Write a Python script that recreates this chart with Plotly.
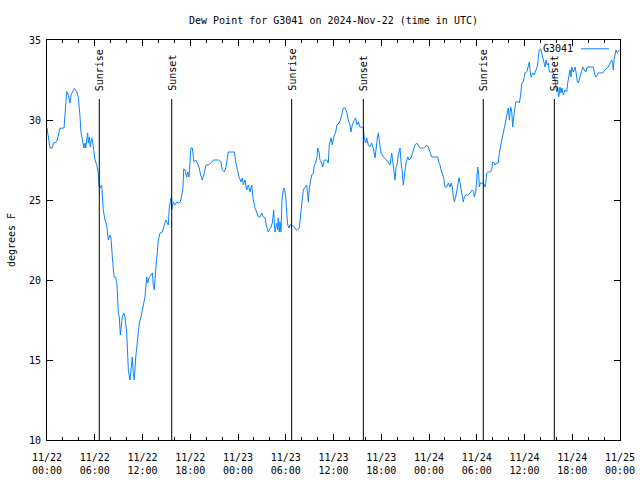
import pandas as pd
import plotly.graph_objects as go

start = pd.Timestamp("2024-11-22 00:00")

# hours since 2024-11-22 00:00 UTC
hours = [0, 0.38, 0.63, 0.82, 1.22, 1.51, 1.63, 2.14, 2.26, 2.48, 2.68, 2.89, 3.02, 3.18, 3.43, 3.73, 3.93,
         4.15, 4.27, 4.44, 4.65, 4.78, 4.86, 4.99, 5.11, 5.19, 5.32, 5.44, 5.62, 5.74, 5.91, 6.03, 6.25, 6.45,
         6.53, 6.66, 6.87, 6.95, 7.07, 7.29, 7.50, 7.63, 7.70, 7.92, 8.04, 8.21, 8.42, 8.63, 8.80, 8.96, 9.09,
         9.21, 9.30, 9.46, 9.64, 9.80, 10.02, 10.14, 10.22, 10.43, 10.56, 10.72, 10.84, 10.97, 11.15, 11.27,
         11.47, 11.60, 11.81, 12.10, 12.31, 12.53, 12.65, 12.82, 13.07, 13.23, 13.36, 13.48, 13.66, 13.82,
         13.99, 14.20, 14.49, 14.74, 14.92, 15.04, 15.24, 15.37, 15.58, 15.67, 15.87, 16.08, 16.30, 16.50,
         16.75, 17.00, 17.10, 17.18, 17.34, 17.55, 17.68, 17.84, 17.97, 18.09, 18.26, 18.47, 18.69, 18.85,
         19.10, 19.31, 19.51, 19.77, 19.98, 20.27, 20.61, 20.90, 21.53, 21.86, 22.03, 22.28, 22.49, 22.78,
         23.21, 23.54, 23.71, 23.96, 24.13, 24.38, 24.54, 24.67, 24.88, 25.09, 25.30, 25.51, 25.72, 25.92,
         26.14, 26.35, 26.55, 26.77, 26.98, 27.18, 27.39, 27.60, 27.81, 27.93, 28.15, 28.31, 28.49, 28.56,
         28.65, 28.86, 28.99, 29.06, 29.19, 29.28, 29.40, 29.53, 29.69, 29.82, 30.00, 30.12, 30.25, 30.41,
         30.53, 30.82, 31.08, 31.29, 31.50, 31.70, 31.83, 32.00, 32.21, 32.42, 32.63, 32.76, 32.84, 32.96,
         33.14, 33.26, 33.46, 33.59, 33.76, 33.93, 34.02, 34.18, 34.30, 34.52, 34.64, 34.85, 35.15, 35.35,
         35.47, 35.69, 35.85, 35.98, 36.10, 36.28, 36.44, 36.69, 36.86, 37.03, 37.23, 37.45, 37.66, 37.86,
         38.07, 38.20, 38.36, 38.61, 38.79, 38.95, 39.12, 39.33, 39.54, 39.75, 39.87, 40.05, 40.17, 40.37,
         40.59, 40.80, 41.00, 41.22, 41.34, 41.51, 41.63, 41.84, 41.97, 42.13, 42.38, 42.69, 42.89, 43.10,
         43.32, 43.44, 43.57, 43.73, 43.86, 43.98, 44.14, 44.36, 44.48, 44.65, 44.77, 44.90, 44.99, 45.11,
         45.33, 45.49, 45.74, 46.03, 46.24, 46.46, 46.66, 46.87, 47.08, 47.29, 47.50, 47.71, 47.91, 48.13,
         48.34, 48.76, 49.10, 49.26, 49.38, 49.51, 49.67, 49.85, 50.01, 50.23, 50.43, 50.64, 50.77, 50.93,
         51.06, 51.18, 51.36, 51.52, 51.68, 51.77, 51.90, 52.02, 52.19, 52.31, 52.44, 52.61, 52.94, 53.28,
         53.44, 53.62, 53.69, 53.87, 53.99, 54.12, 54.25, 54.32, 54.45, 54.62, 54.82, 54.95, 55.04, 55.13,
         55.25, 55.38, 55.67, 55.88, 56.00, 56.21, 56.29, 56.51, 56.71, 56.83, 56.96, 57.14, 57.34, 57.47,
         57.56, 57.77, 57.97, 58.10, 58.27, 58.40, 58.52, 58.60, 58.72, 58.90, 59.22, 59.35, 59.52, 59.65,
         59.85, 60.06, 60.28, 60.48, 60.61, 60.69, 60.82, 61.03, 61.23, 61.45, 61.66, 61.74, 61.86, 62.04,
         62.16, 62.29, 62.45, 62.58, 62.70, 62.86, 62.99, 63.12, 63.29, 63.54, 63.62, 63.74, 63.87, 63.96,
         64.05, 64.17, 64.30, 64.46, 64.59, 64.71, 64.88, 65.09, 65.30, 65.43, 65.59, 65.72, 65.84, 65.93,
         66.13, 66.35, 66.47, 66.64, 66.77, 66.98, 67.19, 67.32, 67.49, 67.69, 67.89, 68.14, 68.45, 68.65,
         68.86, 68.99, 69.28, 69.58, 69.83, 70.12, 70.33, 70.53, 70.74, 70.96, 71.08, 71.16, 71.25, 71.41,
         71.50, 71.66, 71.79, 71.91]

dew_point = [29.5, 28.25, 28.25, 28.56, 28.64, 29.38, 29.48, 29.5, 30.13, 31.77, 31.56, 31.06, 31.56, 31.77,
             31.98, 31.77, 31.46, 30.21, 29.27, 28.75, 28.25, 28.56, 28.25, 28.75, 29.19, 28.56, 28.94, 28.31,
             28.88, 28.63, 28.0, 27.5, 27.19, 26.69, 25.81, 25.75, 25.94, 25.44, 24.38, 23.75, 23.44, 22.81,
             22.5, 22.81, 22.63, 21.44, 20.19, 20.19, 19.69, 17.94, 17.69, 16.56, 17.0, 17.69, 17.94, 17.69,
             16.69, 15.19, 14.38, 13.75, 14.56, 15.19, 14.19, 13.75, 15.19, 15.81, 16.69, 17.31, 17.69, 18.31,
             18.94, 20.19, 19.81, 20.13, 20.31, 20.44, 19.69, 19.38, 20.63, 21.38, 22.5, 22.94, 23.0, 23.44,
             23.75, 23.63, 23.44, 24.56, 25.13, 24.38, 24.88, 24.69, 24.88, 24.81, 24.88, 25.44, 25.88, 26.94,
             26.88, 26.44, 26.75, 26.44, 27.94, 28.25, 28.25, 27.38, 27.5, 27.31, 27.06, 26.56, 26.25, 26.69,
             27.19, 27.19, 27.31, 27.5, 27.5, 27.38, 26.88, 26.75, 27.06, 28.0, 28.0, 28.0, 27.38, 26.75, 26.44,
             26.13, 26.38, 25.94, 26.25, 25.63, 25.94, 25.5, 25.94, 25.0, 24.5, 24.25, 23.94, 23.94, 24.19,
             23.94, 23.88, 23.31, 23.0, 23.13, 23.31, 23.56, 24.38, 23.56, 23.0, 23.56, 23.13, 23.88, 23.0,
             23.63, 23.0, 25.0, 25.63, 25.75, 25.19, 24.19, 23.44, 23.25, 23.44, 23.44, 23.31, 23.13, 23.13,
             23.25, 23.75, 24.69, 25.63, 25.81, 25.94, 25.31, 24.88, 25.75, 26.25, 26.56, 26.69, 27.19, 27.31,
             27.69, 28.25, 28.0, 27.5, 27.31, 27.06, 27.5, 27.5, 27.31, 28.44, 28.88, 28.44, 28.88, 29.06,
             29.25, 29.69, 29.81, 30.0, 30.31, 30.75, 30.75, 30.5, 30.0, 29.69, 29.25, 29.69, 30.0, 30.13,
             29.69, 29.88, 29.56, 29.56, 29.5, 28.88, 28.56, 28.88, 28.44, 28.31, 28.56, 28.25, 27.63, 28.25,
             28.88, 29.19, 28.44, 27.94, 27.81, 27.63, 27.5, 27.31, 27.19, 27.94, 27.38, 26.75, 26.25, 27.06,
             27.19, 27.81, 28.25, 27.38, 26.75, 25.94, 26.38, 26.75, 27.31, 27.69, 27.5, 27.63, 28.13, 28.44,
             28.56, 28.44, 28.25, 28.25, 28.25, 28.31, 28.44, 28.31, 27.94, 27.69, 27.69, 27.69, 27.31, 27.19,
             26.88, 26.69, 26.38, 25.81, 25.81, 26.06, 25.81, 26.06, 25.81, 25.19, 24.88, 25.19, 25.75, 26.25,
             26.38, 26.06, 25.63, 25.19, 24.88, 25.19, 25.31, 25.31, 25.5, 25.63, 25.5, 25.19, 25.5, 26.56,
             27.06, 26.56, 25.81, 26.06, 26.06, 26.06, 25.94, 25.81, 26.06, 26.69, 26.75, 26.75, 26.88, 27.38,
             27.31, 27.19, 27.31, 27.31, 27.94, 28.25, 28.63, 29.19, 29.38, 29.81, 30.13, 30.75, 30.0, 30.81,
             30.5, 29.56, 30.0, 30.5, 31.13, 31.13, 31.06, 31.56, 32.31, 32.38, 32.94, 33.0, 33.44, 33.63,
             33.13, 32.69, 32.94, 32.81, 33.13, 33.44, 33.94, 34.38, 34.44, 34.19, 33.75, 33.44, 33.31, 33.75,
             33.44, 33.56, 33.0, 33.0, 33.0, 32.94, 32.81, 32.31, 32.06, 31.75, 32.0, 31.44, 32.06, 31.69,
             32.0, 31.56, 31.88, 31.75, 32.31, 32.69, 33.13, 32.69, 33.31, 33.0, 33.31, 33.0, 32.38, 32.31,
             32.69, 33.0, 33.31, 33.13, 33.0, 33.31, 33.31, 33.31, 33.31, 32.81, 32.69, 32.94, 32.94, 32.94,
             33.13, 33.25, 33.31, 33.56, 33.75, 33.44, 33.13, 33.75, 34.19, 34.38, 34.19, 34.25, 34.38]

# sun events, hours since start
event_hours = [6.57, 15.67, 30.74, 39.75, 54.82, 63.75]
event_names = ["Sunrise", "Sunset", "Sunrise", "Sunset", "Sunrise", "Sunset"]

title_text = "Dew Point for G3041 on 2024-Nov-22 (time in UTC)"
series_name = "G3041"
y_label = "degrees F"

times = [start + pd.Timedelta(hours=h) for h in hours]
event_times = [start + pd.Timedelta(hours=h) for h in event_hours]

FONT = "DejaVu Sans Mono"
LINE_COLOR = "#0a84ff"

fig = go.Figure()
fig.add_trace(go.Scatter(x=times, y=dew_point, mode="lines", name=series_name,
                         line=dict(color=LINE_COLOR, width=1), showlegend=False))

for t, name in zip(event_times, event_names):
    fig.add_shape(type="line", x0=t, x1=t, xref="x", yref="paper", y0=0, y1=0.8525,
                  line=dict(color="black", width=1))
    fig.add_annotation(x=t, xref="x", y=0.8675, yref="paper", text=name, textangle=-90,
                       showarrow=False, xanchor="center", yanchor="bottom", xshift=1,
                       font=dict(family=FONT, size=10, color="black"))

# gnuplot-style key: text then line sample
fig.add_annotation(x=0.921, y=0.978, xref="paper", yref="paper", text=series_name,
                   showarrow=False, xanchor="right", yanchor="middle",
                   font=dict(family=FONT, size=10, color="black"))
fig.add_shape(type="line", xref="paper", yref="paper", x0=0.932, x1=0.981, y0=0.978, y1=0.978,
              line=dict(color=LINE_COLOR, width=1))

fig.update_layout(
    width=640, height=480,
    margin=dict(l=47, r=20, t=40, b=40, autoexpand=False),
    paper_bgcolor="white", plot_bgcolor="white",
    font=dict(family=FONT, size=10, color="black"),
    title=dict(text=title_text, x=0.5, xref="paper", xanchor="center", y=1 - 20 / 480, yanchor="middle",
               font=dict(family=FONT, size=10, color="black")),
)

fig.update_xaxes(
    type="date", range=[start, start + pd.Timedelta(hours=72)], automargin=False,
    tick0=start, dtick=6 * 3600 * 1000, tickformat="%m/%d<br>%H:%M",
    ticks="inside", ticklen=6, tickcolor="black", ticklabelstandoff=8,
    minor=dict(dtick=2 * 3600 * 1000, ticks="inside", ticklen=3, tickcolor="black", showgrid=False),
    showline=True, linecolor="black", linewidth=1, mirror="ticks",
    showgrid=False, zeroline=False,
    tickfont=dict(family=FONT, size=10, color="black"),
)
fig.update_yaxes(
    range=[10, 35], dtick=5, tick0=10, automargin=False,
    ticks="inside", ticklen=6, tickcolor="black", ticklabelstandoff=3,
    showline=True, linecolor="black", linewidth=1, mirror="ticks",
    showgrid=False, zeroline=False,
    title=dict(text=y_label, font=dict(family=FONT, size=10, color="black"), standoff=11),
    tickfont=dict(family=FONT, size=10, color="black"),
)

fig.write_html("out.html", config={"displayModeBar": False},
               post_script="document.body.style.margin='0';")
